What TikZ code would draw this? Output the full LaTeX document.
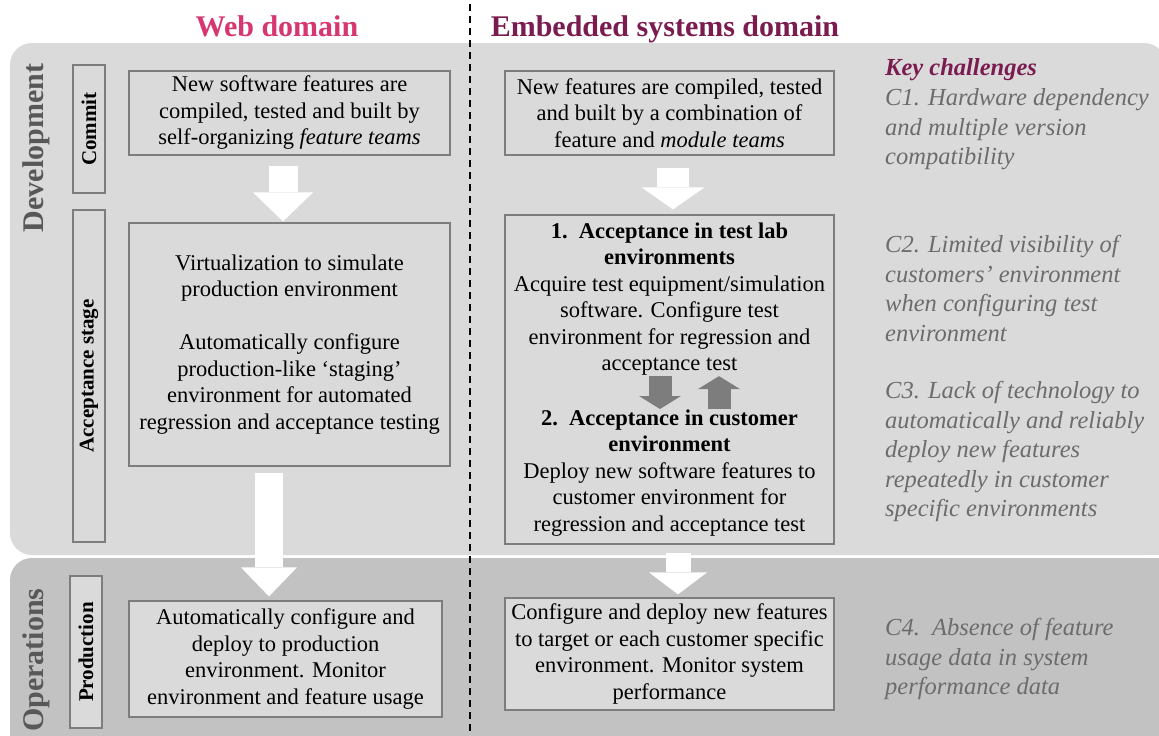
\documentclass[tikz,border=0pt]{standalone}
\usepackage{fontspec}
\setmainfont{Liberation Serif}
\usetikzlibrary{positioning, calc, arrows.meta}
\definecolor{devgray}{RGB}{218,218,218}
\definecolor{opsgray}{RGB}{194,194,194}
\definecolor{boxgray}{RGB}{218,218,218}
\definecolor{linegray}{RGB}{125,125,125}
\definecolor{webpink}{RGB}{214,55,112}
\definecolor{embmaroon}{RGB}{122,28,80}
\definecolor{chalgray}{RGB}{108,108,108}
\definecolor{labelgray}{RGB}{88,88,88}
\definecolor{relaygray}{RGB}{125,125,125}
\tikzset{
  box/.style={draw=linegray, line width=1.2pt, align=center, inner sep=0pt, font=\fontsize{22.5}{26.5}\selectfont},
  stagebox/.style={draw=linegray, line width=1.2pt, rotate=90, inner sep=0pt, minimum height=32pt, font=\fontsize{21}{24}\selectfont\bfseries},
  phasename/.style={rotate=90, text=labelgray, inner sep=0pt, font=\fontsize{30}{36}\selectfont\bfseries},
  domainhead/.style={anchor=base, inner sep=0pt, font=\fontsize{30}{36}\selectfont\bfseries},
  chal/.style={anchor=north west, align=left, inner sep=0pt, text=chalgray, font=\fontsize{24.5}{29.5}\selectfont\itshape},
  flow/.style n args={3}{draw=white, line width=#1, -{Triangle[width=#2, length=#3, line width=0pt]}},
  relay/.style={draw=relaygray, line width=23pt, -{Triangle[width=42pt, length=13pt, line width=0pt]}}
}

\begin{document}
\begin{tikzpicture}[x=1pt, y=-1pt]
\useasboundingbox (0,0) rectangle (1159,736);

% background panels
\fill[devgray, rounded corners=22pt] (10,43) rectangle (1166,555);
\fill[devgray] (1120,510) rectangle (1166,555);
\fill[opsgray, rounded corners=22pt] (10,558) rectangle (1166,780);
\fill[opsgray] (1120,558) rectangle (1166,600);

\node[domainhead, text=webpink] (webtitle) at (277,36) {Web domain};
\node[domainhead, text=embmaroon] (embtitle) at (665,36) {Embedded systems domain};
\draw[line width=2pt, dash pattern=on 7pt off 5pt] (470,4) -- (470,736);

\node[phasename] (dev) at (36,148) {Development};
\node[phasename] (ops) at (36,660) {Operations};

\node[stagebox, minimum width=128pt] (commit) at (89,129) {Commit};
\node[stagebox, minimum width=332pt] (accept) at (89,376) {Acceptance stage};
\node[stagebox, minimum width=152pt, fill=boxgray] (prod) at (86,652) {Production};

% web domain
\node[box, minimum width=321pt, minimum height=84pt] (web1) at (289.5,113) {New software features are\\compiled, tested and built by\\self-organizing \emph{feature teams}};
\node[box, minimum width=321pt, minimum height=243pt] (web2) at (289.5,344.5) {Virtualization to simulate\\production environment\\[26.5pt]Automatically configure\\production-like ‘staging’\\environment for automated\\regression and acceptance testing};
\node[box, fill=boxgray, minimum width=313pt, minimum height=116pt] (web3) at (285.5,659) {Automatically configure and\\deploy to production\\environment. Monitor\\environment and feature usage};

% embedded domain
\node[box, minimum width=329pt, minimum height=84pt] (emb1) at (669.5,113) {New features are compiled, tested\\and built by a combination of\\feature and \emph{module teams}};
\node[box, minimum width=329pt, minimum height=329pt] (emb2) at (669.5,379.5) {};
\node[box, draw=none, anchor=north] (lab) at (669.5,222) {\textbf{1.\ \ Acceptance in test lab}\\\textbf{environments}\\Acquire test equipment/simulation\\software. Configure test\\environment for regression and\\acceptance test};
\node[box, draw=none, anchor=north] (cust) at (669.5,409) {\textbf{2.\ \ Acceptance in customer}\\\textbf{environment}\\Deploy new software features to\\customer environment for\\regression and acceptance test};
\node[box, fill=boxgray, minimum width=329pt, minimum height=112pt] (emb3) at (669.5,654) {Configure and deploy new features\\to target or each customer specific\\environment. Monitor system\\performance};

% flow arrows
\draw[flow={29pt}{60pt}{29pt}] ($(web1.south)+(-6.5,10)$) -- ($(web2.north)+(-6.5,-1)$);
\draw[flow={28pt}{56pt}{29pt}] ($(web2.south)+(-20.5,6)$) -- ($(web3.north)+(-16.5,-4)$);
\draw[flow={32pt}{63pt}{22pt}] ($(emb1.south)+(3.5,12)$) -- ($(emb2.north)+(3.5,-5)$);
\draw[flow={25pt}{58pt}{22pt}] ($(emb2.south)+(8.5,8)$) -- ($(emb3.north)+(8.5,-3)$);
\draw[relay] ($(lab.south)+(-9.5,0)$) -- ($(cust.north)+(-9.5,0)$);
\draw[relay] ($(cust.north)+(49.5,0)$) -- ($(lab.south)+(49.5,0)$);

% challenges
\node[chal, text=embmaroon, font=\fontsize{24.5}{29.5}\selectfont\bfseries\itshape] (keyc) at (885,58.5) {Key challenges};
\node[chal] (c1) at (885,88.5) {C1. Hardware dependency\\and multiple version\\compatibility};
\node[chal] (c2) at (885,235.5) {C2. Limited visibility of\\customers’ environment\\when configuring test\\environment};
\node[chal] (c3) at (885,381.5) {C3. Lack of technology to\\automatically and reliably\\deploy new features\\repeatedly in customer\\specific environments};
\node[chal] (c4) at (885,618.5) {C4.\ \ Absence of feature\\usage data in system\\performance data};
\end{tikzpicture}
\end{document}
